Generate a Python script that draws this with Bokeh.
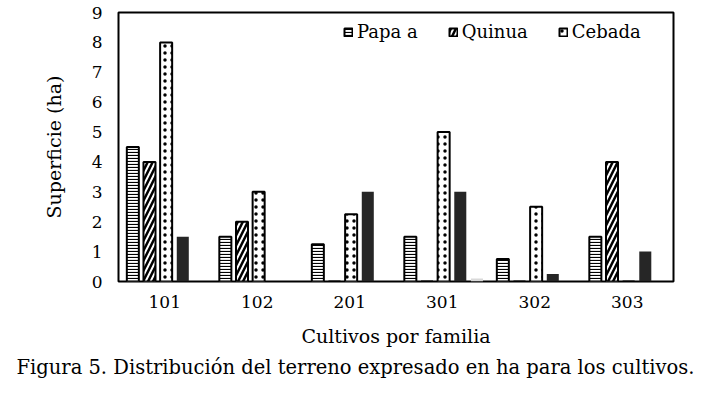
from bokeh.plotting import figure
from bokeh.models import ColumnDataSource, FactorRange, Legend, LegendItem, Title, FixedTicker
from bokeh.transform import dodge
from bokeh.embed import file_html
from bokeh.resources import INLINE

categorias = ["101", "102", "201", "301", "302", "303"]
papa_a = [4.5, 1.5, 1.25, 1.5, 0.75, 1.5]
quinua = [4.0, 2.0, 0.0, 0.0, 0.0, 4.0]
cebada = [8.0, 3.0, 2.25, 5.0, 2.5, 0.0]
serie_4 = [1.5, 0.0, 3.0, 3.0, 0.25, 1.0]
serie_5 = [0.0, 0.0, 0.0, 0.1, 0.0, 0.0]
y_ticks = [0, 1, 2, 3, 4, 5, 6, 7, 8, 9]

FONT = "DejaVu Serif"

src = ColumnDataSource(dict(cat=categorias, papa=papa_a, quinua=quinua,
                            cebada=cebada, s4=serie_4, s5=serie_5))

p = figure(x_range=FactorRange(*categorias), y_range=(0, 9),
           frame_width=555, frame_height=269, output_backend="svg", toolbar_location=None,
           min_border_left=118, min_border_top=12, min_border_right=27, min_border_bottom=8)

step = 0.18
w = 0.13
shift = 0.015
common = dict(source=src, width=w, line_color="black", line_width=2,
              fill_color="white", hatch_color="black")

r1 = p.vbar(x=dodge("cat", -2 * step + shift, range=p.x_range), top="papa",
            hatch_pattern="horizontal_line", hatch_scale=3, hatch_weight=1.2, **common)
r2 = p.vbar(x=dodge("cat", -1 * step + shift, range=p.x_range), top="quinua",
            hatch_pattern="right_diagonal_line", hatch_scale=10, hatch_weight=2.5, **common)
r3 = p.vbar(x=dodge("cat", 0 + shift, range=p.x_range), top="cebada",
            hatch_pattern="dot", hatch_scale=7, hatch_weight=1, **common)
r4 = p.vbar(x=dodge("cat", step + shift, range=p.x_range), top="s4", source=src,
            width=w, fill_color="#262626", line_color=None)
r5 = p.vbar(x=dodge("cat", 2 * step + shift, range=p.x_range), top="s5", source=src,
            width=w, fill_color="#d9d9d9", line_color=None)

legend = Legend(items=[LegendItem(label="Papa a", renderers=[r1]),
                       LegendItem(label="Quinua", renderers=[r2]),
                       LegendItem(label="Cebada", renderers=[r3])],
                orientation="horizontal", location=(225, 239),
                glyph_width=10, glyph_height=10, spacing=30, label_standoff=4,
                padding=4, border_line_color=None, background_fill_alpha=0,
                label_text_font=FONT, label_text_font_size="18px",
                label_text_color="black")
p.add_layout(legend)

p.outline_line_color = "black"
p.outline_line_width = 2
p.xgrid.grid_line_color = None
p.ygrid.grid_line_color = None

p.yaxis.ticker = FixedTicker(ticks=y_ticks)
for ax in (p.xaxis[0], p.yaxis[0]):
    ax.axis_line_color = None
    ax.major_tick_line_color = None
    ax.minor_tick_line_color = None
    ax.major_label_text_font = FONT
    ax.major_label_text_font_size = "17px"
    ax.axis_label_text_font = FONT
    ax.axis_label_text_font_size = "19px"
    ax.axis_label_text_font_style = "normal"
    ax.axis_label_text_color = "black"
    ax.major_label_text_color = "black"

p.yaxis.axis_label = "Superficie (ha)"
p.yaxis.major_label_standoff = 10
p.yaxis.axis_label_standoff = 24
p.xaxis.axis_label = "Cultivos por familia"
p.xaxis.major_label_standoff = 8
p.xaxis.axis_label_standoff = 14

p.add_layout(Title(text="Figura 5. Distribución del terreno expresado en ha para los cultivos.",
                   text_font=FONT, text_font_size="19.5px", text_font_style="normal",
                   align="left", offset=-102, text_color="black", standoff=8), "below")

open("out.html", "w").write(file_html(p, INLINE))
